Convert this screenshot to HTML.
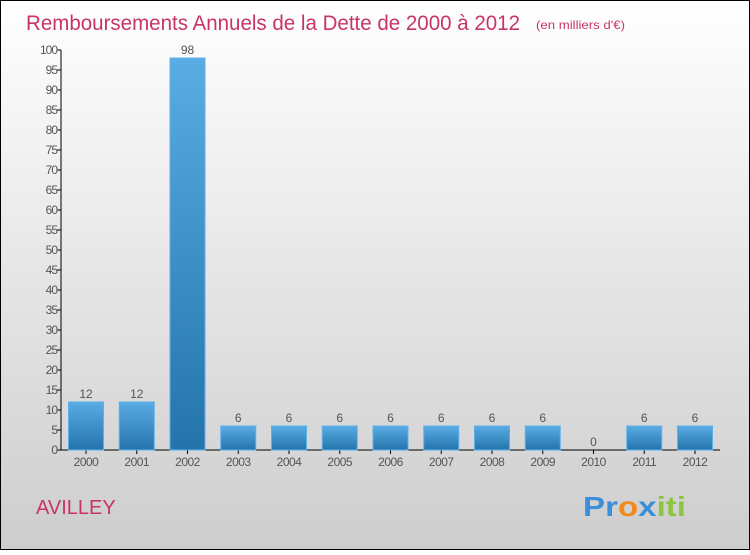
<!DOCTYPE html>
<html><head><meta charset="utf-8"><style>
body{margin:0;width:750px;height:550px;overflow:hidden;font-family:"Liberation Sans",sans-serif}
</style></head><body>
<svg id="c" width="750" height="550" xmlns="http://www.w3.org/2000/svg">
<defs>
<linearGradient id="bg" x1="0" y1="0" x2="0" y2="1"><stop offset="0" stop-color="#ffffff"/><stop offset="1" stop-color="#cdcdcd"/></linearGradient>
<linearGradient id="bar" x1="0" y1="0" x2="0" y2="1"><stop offset="0" stop-color="#5aace4"/><stop offset="1" stop-color="#2473ad"/></linearGradient>
</defs>
<rect x="0.5" y="0.5" width="749" height="549" fill="url(#bg)" stroke="#000"/>
<text x="26" y="30" font-size="21" fill="#c8336a" textLength="494" lengthAdjust="spacingAndGlyphs">Remboursements Annuels de la Dette de 2000 à 2012</text>
<text x="536" y="29" font-size="12" fill="#c8336a" textLength="89" lengthAdjust="spacingAndGlyphs">(en milliers d'€)</text>
<text x="36" y="514" font-size="20" fill="#c8336a">AVILLEY</text>
<text x="583" y="516" font-size="28" font-weight="bold" textLength="103" lengthAdjust="spacingAndGlyphs"><tspan fill="#3a8fd8">Pr</tspan><tspan fill="#f08a1c">o</tspan><tspan fill="#3a8fd8">x</tspan><tspan fill="#8cc63e">iti</tspan></text>
<g id="axes"></g><g id="bars"></g>
</svg>
<script>
const categories=["2000","2001","2002","2003","2004","2005","2006","2007","2008","2009","2010","2011","2012"];
const values=[12,12,98,6,6,6,6,6,6,6,0,6,6];
const yTicks=[0,5,10,15,20,25,30,35,40,45,50,55,60,65,70,75,80,85,90,95,100];
const NS="http://www.w3.org/2000/svg";
const x0=61,y0=450,yTop=50,yMax=100,step=50.75,bw=35;
const y=v=>y0-(v/yMax)*(y0-yTop);
const xc=i=>86+i*step;
function mk(t,a,p){const e=document.createElementNS(NS,t);for(const k in a)e.setAttribute(k,a[k]);p.appendChild(e);return e;}
const ax=document.getElementById('axes'),bg=document.getElementById('bars');
let l=mk('line',{x1:x0,y1:yTop,x2:x0,y2:y0,stroke:'#000'},ax);


l=mk('line',{x1:x0,y1:y0,x2:720,y2:y0,stroke:'#000'},ax);


yTicks.forEach(t=>{
 const tk=mk('line',{x1:x0-4,y1:y(t),x2:x0,y2:y(t),stroke:'#000'},ax);
 
 
 const tx=mk('text',{x:x0-4,y:y(t)+4,'font-size':12,'text-anchor':'end',fill:'#555','letter-spacing':'-1'},ax);
 tx.textContent=t;
 
 
});
categories.forEach((c,i)=>{
 const v=values[i];
 if(v>0){
  const r=mk('rect',{x:xc(i)-bw/2,y:y(v),width:bw,height:y0-y(v),fill:'url(#bar)',stroke:'#5fb0ea','stroke-width':1},bg);
  
  
 }
 const vl=mk('text',{x:xc(i),y:y(v)-4,'font-size':12,'text-anchor':'middle',fill:'#555'},bg);
 vl.textContent=v;
 
 
 const tk=mk('line',{x1:xc(i),y1:y0,x2:xc(i),y2:y0+4,stroke:'#000'},ax);
 
 
 const xl=mk('text',{x:xc(i),y:y0+16,'font-size':12,'text-anchor':'middle',fill:'#555','letter-spacing':'-0.5'},ax);
 xl.textContent=c;
 
 
});
</script>
</body></html>
